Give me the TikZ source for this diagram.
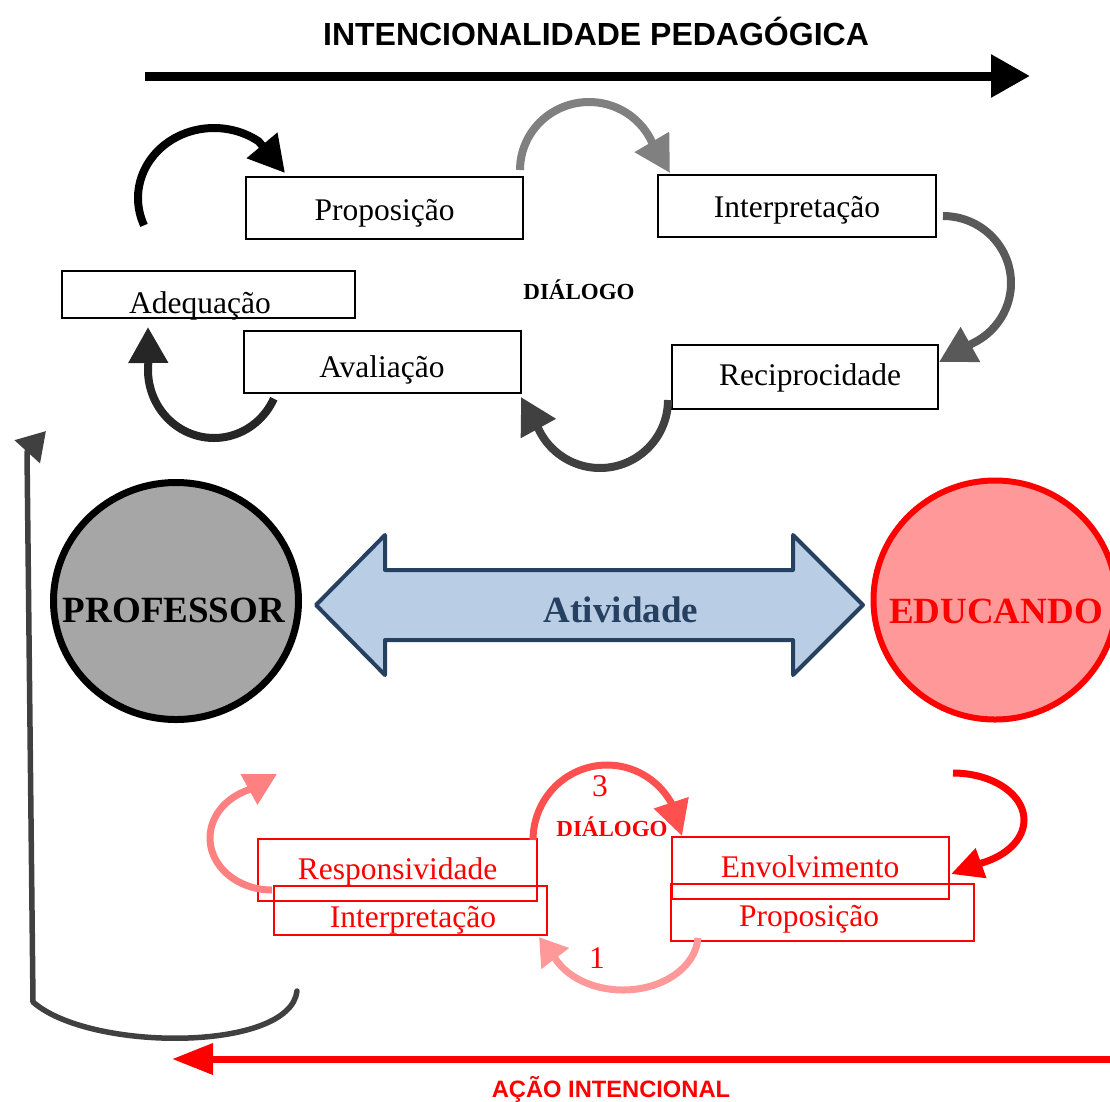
\documentclass[tikz,border=0pt]{standalone}
\usepackage{fontspec}
\setmainfont{Liberation Serif}
\newfontfamily\hdsans{Liberation Sans}
\usetikzlibrary{arrows.meta,shapes.geometric}
\definecolor{navyc}{RGB}{37,64,97}
\definecolor{lblue}{RGB}{185,205,229}
\definecolor{profgray}{RGB}{166,166,166}
\definecolor{edupink}{RGB}{255,153,153}
\definecolor{gA}{RGB}{128,128,128}
\definecolor{gB}{RGB}{89,89,89}
\definecolor{gC}{RGB}{64,64,64}
\definecolor{gD}{RGB}{38,38,38}
\definecolor{pinkA}{RGB}{255,128,128}
\definecolor{pinkB}{RGB}{255,80,80}
\definecolor{pinkC}{RGB}{255,153,153}
\begin{document}
\begin{tikzpicture}[x=1pt,y=-1pt,
  box/.style={draw=black, line width=2.5pt, inner sep=0pt, outer sep=0pt},
  rbox/.style={draw=red, line width=2.5pt, inner sep=0pt, outer sep=0pt},
  lbl/.style={anchor=base, inner sep=0pt, font=\fontsize{31.5}{36}\selectfont},
  rlbl/.style={lbl, text=red},
  dlg/.style={anchor=base, inner sep=0pt, font=\bfseries\fontsize{23}{26}\selectfont},
  big/.style={anchor=base, inner sep=0pt, font=\bfseries\fontsize{37}{42}\selectfont},
  cyc/.style={line width=8pt, -{Triangle[length=36pt,width=38pt]}},
  rcyc/.style={line width=7pt, -{Triangle[length=32pt,width=33pt]}}
]
\useasboundingbox (0,0) rectangle (1110,1101);
\clip (0,0) rectangle (1110,1101);

% ---------- header ----------
\node[anchor=base, inner sep=0pt, font=\hdsans\bfseries\fontsize{32}{36}\selectfont] (title) at (596,45) {INTENCIONALIDADE PEDAGÓGICA};
\coordinate (ta1) at (145,76);
\coordinate (ta2) at (1030,76);
\draw[line width=9pt, -{Triangle[length=39pt,width=41pt]}] (ta1) -- (ta2);

% ---------- top cycle boxes ----------
\node[box, minimum width=277pt, minimum height=62pt] (prop) at (384.5,208) {};
\node[lbl] (tprop) at (384.5,220) {Proposição};
\node[box, minimum width=278pt, minimum height=62pt] (interp) at (797,206) {};
\node[lbl] (tinterp) at (797,217) {Interpretação};
\node[box, minimum width=293pt, minimum height=47pt] (adeq) at (208.5,294.5) {};
\node[lbl] (tadeq) at (200,313) {Adequação};
\node[box, minimum width=277pt, minimum height=62pt] (aval) at (382.5,362) {};
\node[lbl] (taval) at (382,377) {Avaliação};
\node[box, minimum width=266pt, minimum height=64pt] (recip) at (805,377) {};
\node[lbl] (trecip) at (810,385) {Reciprocidade};
\node[dlg] (dlg1) at (579,299) {DIÁLOGO};

% ---------- top cycle arrows ----------
\coordinate (t1) at (285,173);
\draw[cyc, draw=black] plot[domain=203:54, samples=50] ({214+76*cos(\x)},{198-70*sin(\x)}) -- (t1);
\coordinate (t2) at (670,173);
\draw[cyc, draw=gA] plot[domain=180:24, samples=50] ({589+69*cos(\x)},{170-68*sin(\x)}) -- (t2);
\coordinate (t3) at (939,362);
\draw[cyc, draw=gB] plot[domain=90:-65, samples=50] ({943+68*cos(\x)},{283-67*sin(\x)}) -- (t3);
\coordinate (t5) at (521,397);
\draw[cyc, draw=gC] plot[domain=0:-156, samples=50] ({600+68*cos(\x)},{400-68*sin(\x)}) -- (t5);
\coordinate (t4) at (148,327);
\draw[cyc, draw=gD] plot[domain=-25:-185, samples=50] ({214+66*cos(\x)},{370-68*sin(\x)}) -- (t4);

% ---------- middle ----------
\node[ellipse, draw=black, line width=7pt, fill=profgray, minimum width=245pt, minimum height=237pt, inner sep=0pt] (prof) at (176,601) {};
\node[big] (tprof) at (174,622) {PROFESSOR};
\node[ellipse, draw=red, line width=6pt, fill=edupink, minimum width=243pt, minimum height=239pt, inner sep=0pt] (edu) at (995,600) {};
\node[big, text=red] (tedu) at (996,623) {EDUCANDO};
\draw[line width=4pt, draw=navyc, fill=lblue, line join=round]
  (316,605) -- (385,535) -- (385,570) -- (793,570) -- (793,535) -- (863,605)
  -- (793,675) -- (793,640) -- (385,640) -- (385,675) -- cycle;
\node[big, text=navyc] (act) at (621,622) {Atividade};

% ---------- bottom cycle boxes ----------
\node[rbox, minimum width=279pt, minimum height=62pt] (resp) at (397.5,870) {};
\node[rlbl] (tresp) at (397.5,879) {Responsividade};
\node[rbox, minimum width=273pt, minimum height=49pt] (interpr) at (410.5,910.5) {};
\node[rlbl] (tinterpr) at (413,927) {Interpretação};
\node[rbox, minimum width=277pt, minimum height=62pt] (envol) at (810.5,868) {};
\node[rlbl] (tenvol) at (810,877) {Envolvimento};
\node[rbox, minimum width=303pt, minimum height=57pt] (propr) at (822.5,912.5) {};
\node[rlbl] (tpropr) at (809,926) {Proposição};
\node[dlg, text=red] (dlg2) at (612,836) {DIÁLOGO};
\node[rlbl] (n3) at (600,796) {3};
\node[rlbl] (n1) at (597,968) {1};

% ---------- bottom cycle arrows ----------
\coordinate (t6) at (277,774);
\draw[rcyc, draw=pinkA] plot[domain=-90:-247, samples=50] ({272+62*cos(\x)},{838-52*sin(\x)}) -- (t6);
\coordinate (t7) at (682,836);
\draw[rcyc, draw=pinkB, -{Triangle[length=35pt,width=35pt]}] plot[domain=180:30, samples=50] ({607+74*cos(\x)},{840-75*sin(\x)}) -- (t7);
\coordinate (t8) at (539,937);
\draw[rcyc, draw=pinkC, -{Triangle[length=27pt,width=33pt]}] plot[domain=-3:-155, samples=50] ({623+75*cos(\x)},{935-55*sin(\x)}) -- (t8);
\coordinate (t9) at (951,874);
\draw[rcyc, draw=red, -{Triangle[length=32pt,width=30pt]}] plot[domain=90:-67, samples=50] ({953+71*cos(\x)},{820-47*sin(\x)}) -- (t9);

% ---------- outer loop ----------
\coordinate (s10) at (297,991);
\coordinate (c10) at (33,1002);
\coordinate (u10) at (27,452);
\coordinate (t10) at (46,431);
\draw[line width=5.5pt, draw=gC, line cap=round, line join=round, -{Triangle[length=28pt,width=33pt]}]
  (s10) .. controls (290,1052) and (90,1052) .. (c10) -- (u10) -- (t10);

% ---------- bottom arrow ----------
\coordinate (ba1) at (1110,1059);
\coordinate (ba2) at (172,1059);
\draw[red, line width=7pt, -{Triangle[length=41pt,width=30pt]}] (ba1) -- (ba2);
\node[anchor=base, inner sep=0pt, text=red, font=\hdsans\bfseries\fontsize{23.7}{28}\selectfont] (acao) at (611,1097) {AÇÃO INTENCIONAL};
\end{tikzpicture}
\end{document}
